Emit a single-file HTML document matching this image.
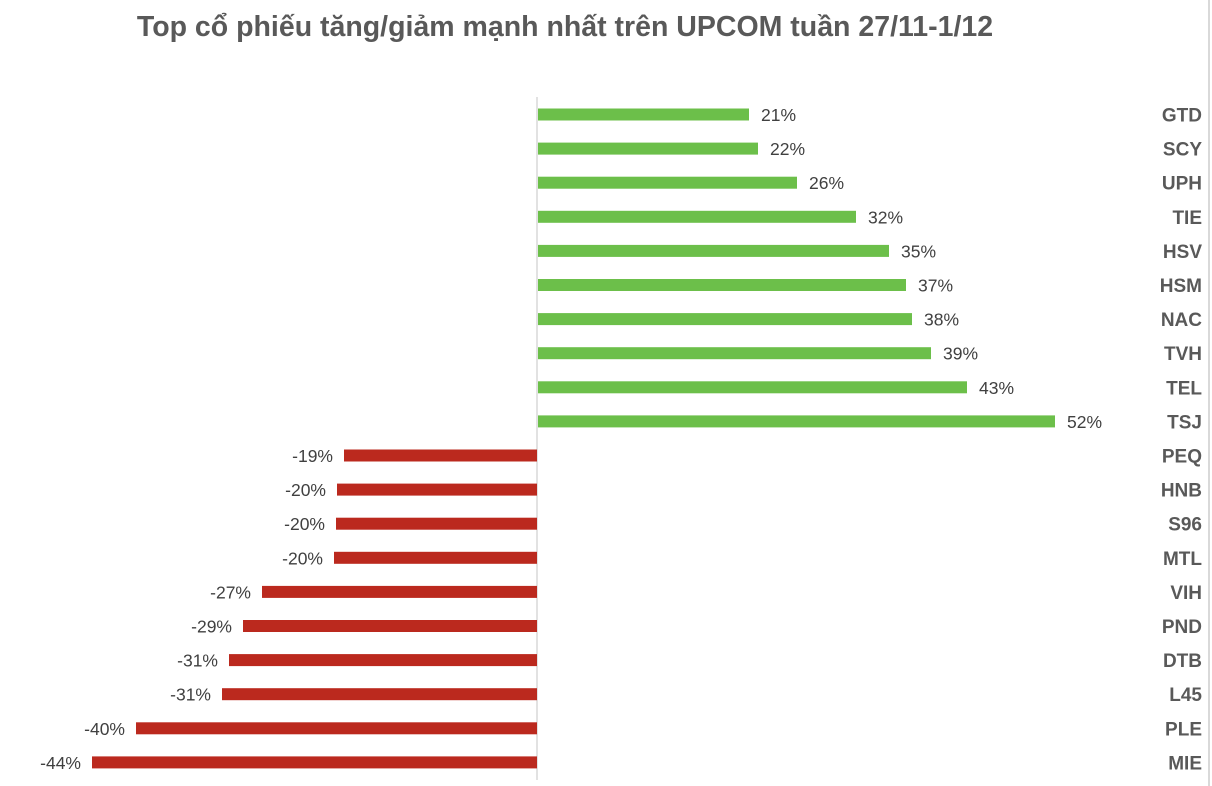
<!DOCTYPE html>
<html><head><meta charset="utf-8"><style>
html,body{margin:0;padding:0;background:#fff;}
svg{display:block;}
</style></head><body>
<svg width="1212" height="786" viewBox="0 0 1212 786" xmlns="http://www.w3.org/2000/svg" font-family="Liberation Sans, DejaVu Sans, sans-serif">
<rect x="0" y="0" width="1212" height="786" fill="#fff"/>
<line x1="1209" y1="0" x2="1209" y2="786" stroke="#d9d9d9" stroke-width="2"/>
<text x="565" y="36" text-anchor="middle" font-size="28.5" font-weight="bold" fill="#595959">Top cổ phiếu tăng/giảm mạnh nhất trên UPCOM tuần 27/11-1/12</text>
<line x1="537" y1="97" x2="537" y2="780" stroke="#d9d9d9" stroke-width="1.5"/>
<g fill="#6cbf4a">
<rect x="538" y="108.5" width="211" height="12"/>
<rect x="538" y="142.6" width="220" height="12"/>
<rect x="538" y="176.7" width="259" height="12"/>
<rect x="538" y="210.8" width="318" height="12"/>
<rect x="538" y="244.9" width="351" height="12"/>
<rect x="538" y="279" width="368" height="12"/>
<rect x="538" y="313.1" width="374" height="12"/>
<rect x="538" y="347.2" width="393" height="12"/>
<rect x="538" y="381.3" width="429" height="12"/>
<rect x="538" y="415.4" width="517" height="12"/>
</g>
<g fill="#bb291e">
<rect x="344" y="449.5" width="193" height="12"/>
<rect x="337" y="483.6" width="200" height="12"/>
<rect x="336" y="517.7" width="201" height="12"/>
<rect x="334" y="551.8" width="203" height="12"/>
<rect x="262" y="585.9" width="275" height="12"/>
<rect x="243" y="620" width="294" height="12"/>
<rect x="229" y="654.1" width="308" height="12"/>
<rect x="222" y="688.2" width="315" height="12"/>
<rect x="136" y="722.3" width="401" height="12"/>
<rect x="92" y="756.4" width="445" height="12"/>
</g>
<g font-size="17.5" fill="#404040">
<text x="761" y="121">21%</text>
<text x="770" y="155.1">22%</text>
<text x="809" y="189.2">26%</text>
<text x="868" y="223.3">32%</text>
<text x="901" y="257.4">35%</text>
<text x="918" y="291.5">37%</text>
<text x="924" y="325.6">38%</text>
<text x="943" y="359.7">39%</text>
<text x="979" y="393.8">43%</text>
<text x="1067" y="427.9">52%</text>
</g>
<g font-size="17.5" fill="#404040" text-anchor="end">
<text x="333" y="462">-19%</text>
<text x="326" y="496.1">-20%</text>
<text x="325" y="530.2">-20%</text>
<text x="323" y="564.3">-20%</text>
<text x="251" y="598.4">-27%</text>
<text x="232" y="632.5">-29%</text>
<text x="218" y="666.6">-31%</text>
<text x="211" y="700.7">-31%</text>
<text x="125" y="734.8">-40%</text>
<text x="81" y="768.9">-44%</text>
</g>
<g font-size="19" font-weight="bold" fill="#595959" text-anchor="end">
<text x="1202" y="121.5">GTD</text>
<text x="1202" y="155.6">SCY</text>
<text x="1202" y="189.7">UPH</text>
<text x="1202" y="223.8">TIE</text>
<text x="1202" y="257.9">HSV</text>
<text x="1202" y="292">HSM</text>
<text x="1202" y="326.1">NAC</text>
<text x="1202" y="360.2">TVH</text>
<text x="1202" y="394.3">TEL</text>
<text x="1202" y="428.4">TSJ</text>
<text x="1202" y="462.5">PEQ</text>
<text x="1202" y="496.6">HNB</text>
<text x="1202" y="530.7">S96</text>
<text x="1202" y="564.8">MTL</text>
<text x="1202" y="598.9">VIH</text>
<text x="1202" y="633">PND</text>
<text x="1202" y="667.1">DTB</text>
<text x="1202" y="701.2">L45</text>
<text x="1202" y="735.3">PLE</text>
<text x="1202" y="769.4">MIE</text>
</g>
</svg>
</body></html>
